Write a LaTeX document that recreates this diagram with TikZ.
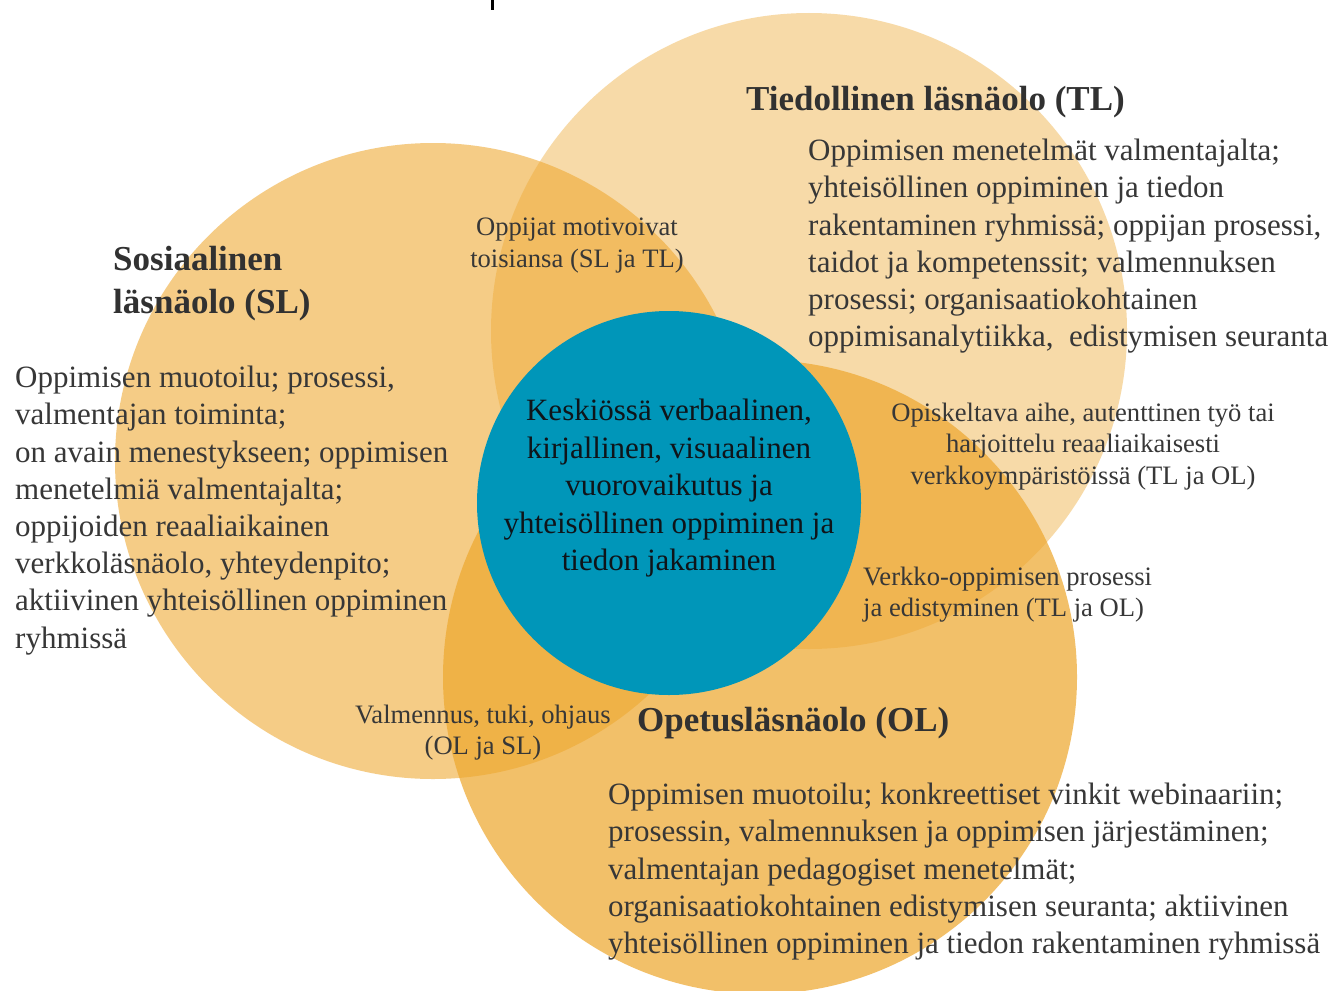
\documentclass[tikz,border=0pt]{standalone}
\usepackage{fontspec}
\setmainfont{Liberation Serif}
\definecolor{venn}{RGB}{238,168,48}
\definecolor{core}{RGB}{0,150,185}
\definecolor{txt}{RGB}{55,55,55}
\definecolor{ctxt}{RGB}{15,20,25}
\tikzset{
  venncircle/.style={circle, inner sep=0pt, minimum size=636pt, fill=venn, draw=none},
  body/.style={inner sep=0pt, align=left, text=txt, font=\fontsize{31}{37.2}\selectfont},
  small/.style={inner sep=0pt, text=txt, font=\fontsize{26.6}{31.3}\selectfont},
  heading/.style={inner sep=0pt, align=left, text=txt!90!black, font=\fontsize{35}{43}\selectfont\bfseries},
}
\begin{document}
\begin{tikzpicture}[x=1pt,y=-1pt]
\useasboundingbox (0,0) rectangle (1332,990);
\fill[white] (0,0) rectangle (1332,990);
% circles
\node[venncircle, fill opacity=0.58] (SL) at (433,461) {};
\node[venncircle, fill opacity=0.42] (TL) at (809,331) {};
\node[venncircle, fill opacity=0.72, minimum size=634pt] (OL) at (760,677) {};
\node[circle, inner sep=0pt, minimum size=384pt, fill=core] (C) at (669,503) {};
% top tick
\coordinate (tickA) at (492,0);
\coordinate (tickB) at (492,10);
\draw[line width=3pt, black] (tickA) -- (tickB);
% headings
\node[heading, anchor=north west] (hTL) at (746,86) {Tiedollinen läsnäolo (TL)};
\node[heading, anchor=north west] (hSL) at (113,246) {Sosiaalinen\\läsnäolo (SL)};
\node[heading, anchor=north west] (hOL) at (637,707) {Opetusläsnäolo (OL)};
% body texts
\node[body, anchor=north west] (bTL) at (808,139) {Oppimisen menetelmät valmentajalta;\\yhteisöllinen oppiminen ja tiedon\\rakentaminen ryhmissä; oppijan prosessi,\\taidot ja kompetenssit; valmennuksen\\prosessi; organisaatiokohtainen\\oppimisanalytiikka,\ \ edistymisen seuranta};
\node[body, anchor=north west] (bSL) at (15,366) {Oppimisen muotoilu; prosessi,\\valmentajan toiminta;\\on avain menestykseen; oppimisen\\menetelmiä valmentajalta;\\oppijoiden reaaliaikainen\\verkkoläsnäolo, yhteydenpito;\\aktiivinen yhteisöllinen oppiminen\\ryhmissä};
\node[body, anchor=north west] (bOL) at (608,783) {Oppimisen muotoilu; konkreettiset vinkit webinaariin;\\prosessin, valmennuksen ja oppimisen järjestäminen;\\valmentajan pedagogiset menetelmät;\\organisaatiokohtainen edistymisen seuranta; aktiivinen\\yhteisöllinen oppiminen ja tiedon rakentaminen ryhmissä};
% overlap texts
\node[small, align=center, anchor=north] (sSLTL) at (577,218) {Oppijat motivoivat\\toisiansa (SL ja TL)};
\node[small, align=center, anchor=north] (sTLOL) at (1083,403) {Opiskeltava aihe, autenttinen työ tai\\harjoittelu reaaliaikaisesti\\verkkoympäristöissä (TL ja OL)};
\node[small, align=left, anchor=north west] (sTLOL2) at (863,567) {Verkko-oppimisen prosessi\\ja edistyminen (TL ja OL)};
\node[small, align=center, anchor=north] (sOLSL) at (483,705) {Valmennus, tuki, ohjaus\\(OL ja SL)};
% centre text
\node[inner sep=0pt, align=center, text=ctxt, font=\fontsize{31}{37.5}\selectfont, anchor=north] (cT) at (669,399) {Keskiössä verbaalinen,\\kirjallinen, visuaalinen\\vuorovaikutus ja\\yhteisöllinen oppiminen ja\\tiedon jakaminen};
\end{tikzpicture}
\end{document}
